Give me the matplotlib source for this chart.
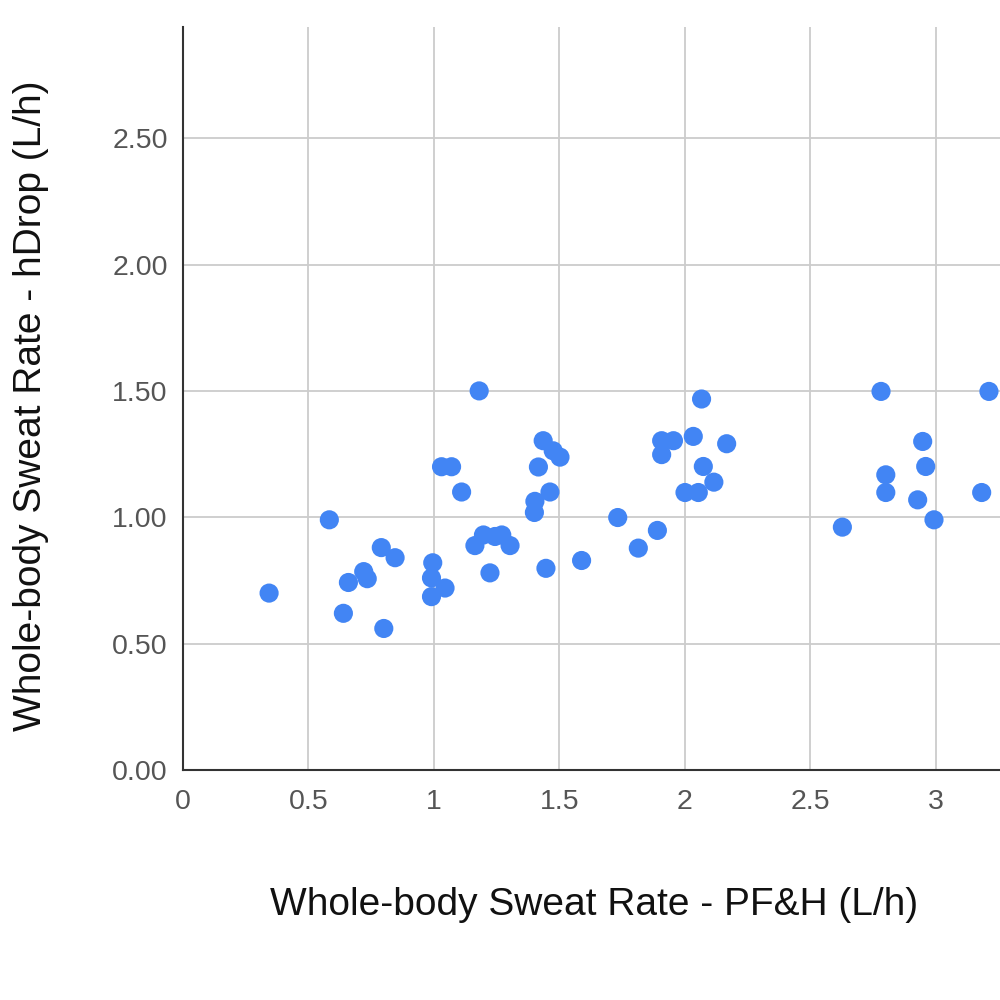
import matplotlib
matplotlib.use("Agg")
import matplotlib.pyplot as plt

pfh = [1.18, 1.03, 1.07, 1.11, 0.583, 0.79, 0.845, 0.72, 0.734, 0.659, 0.343, 0.639, 0.80,
       0.995, 0.99, 1.044, 0.99, 1.163, 1.197, 1.243, 1.27, 1.303, 1.223,
       1.435, 1.475, 1.502, 1.416, 1.462, 1.402, 1.40, 1.446, 1.588, 1.732, 1.814, 1.89,
       2.066, 1.907, 1.954, 1.907, 2.033, 2.166, 2.073, 2.115, 2.0, 2.053,
       2.781, 3.211, 2.947, 2.959, 2.80, 2.80, 2.927, 3.182, 2.992, 2.627]
hdrop = [1.50, 1.20, 1.20, 1.10, 0.99, 0.88, 0.84, 0.785, 0.757, 0.742, 0.70, 0.62, 0.56,
         0.82, 0.76, 0.72, 0.686, 0.888, 0.93, 0.924, 0.93, 0.888, 0.78,
         1.303, 1.263, 1.238, 1.199, 1.10, 1.063, 1.019, 0.798, 0.829, 0.999, 0.878, 0.948,
         1.468, 1.303, 1.303, 1.248, 1.32, 1.291, 1.201, 1.139, 1.098, 1.098,
         1.498, 1.498, 1.30, 1.201, 1.168, 1.098, 1.069, 1.098, 0.99, 0.961]

x_ticks = [0, 0.5, 1, 1.5, 2, 2.5, 3]
x_tick_labels = ["0", "0.5", "1", "1.5", "2", "2.5", "3"]
y_ticks = [0, 0.5, 1.0, 1.5, 2.0, 2.5]
y_tick_labels = ["0.00", "0.50", "1.00", "1.50", "2.00", "2.50"]

plt.rcParams['font.family'] = ['Liberation Sans', 'DejaVu Sans']

fig = plt.figure(figsize=(10, 10), dpi=100)
ax = fig.add_axes([0.183, 0.23, 0.817, 0.743])
ax.set_xlim(0, 3.255)
ax.set_ylim(0, 2.94)

ax.scatter(pfh, hdrop, s=190, color="#4285F4", edgecolors="none", zorder=3, clip_on=False)

ax.set_xticks(x_ticks)
ax.set_xticklabels(x_tick_labels)
ax.set_yticks(y_ticks)
ax.set_yticklabels(y_tick_labels)
ax.grid(True, color="#cccccc", linewidth=1.3, zorder=0)
ax.set_axisbelow(True)
ax.tick_params(length=0, labelsize=20.5, colors="#555555")
ax.tick_params(axis="x", pad=14)
ax.tick_params(axis="y", pad=11)
for s in ["top", "right"]:
    ax.spines[s].set_visible(False)
ax.spines["left"].set_color("#333333")
ax.spines["left"].set_linewidth(1.5)
ax.spines["bottom"].set_color("#333333")
ax.spines["bottom"].set_linewidth(1.5)

fig.text(0.594, 0.095, "Whole-body Sweat Rate - PF&H (L/h)", ha="center", va="center",
         fontsize=28, color="#111111")
fig.text(0.031, 0.594, "Whole-body Sweat Rate - hDrop (L/h)", ha="center", va="center",
         fontsize=28, color="#111111", rotation=90)

fig.savefig("out.png", dpi=100)
